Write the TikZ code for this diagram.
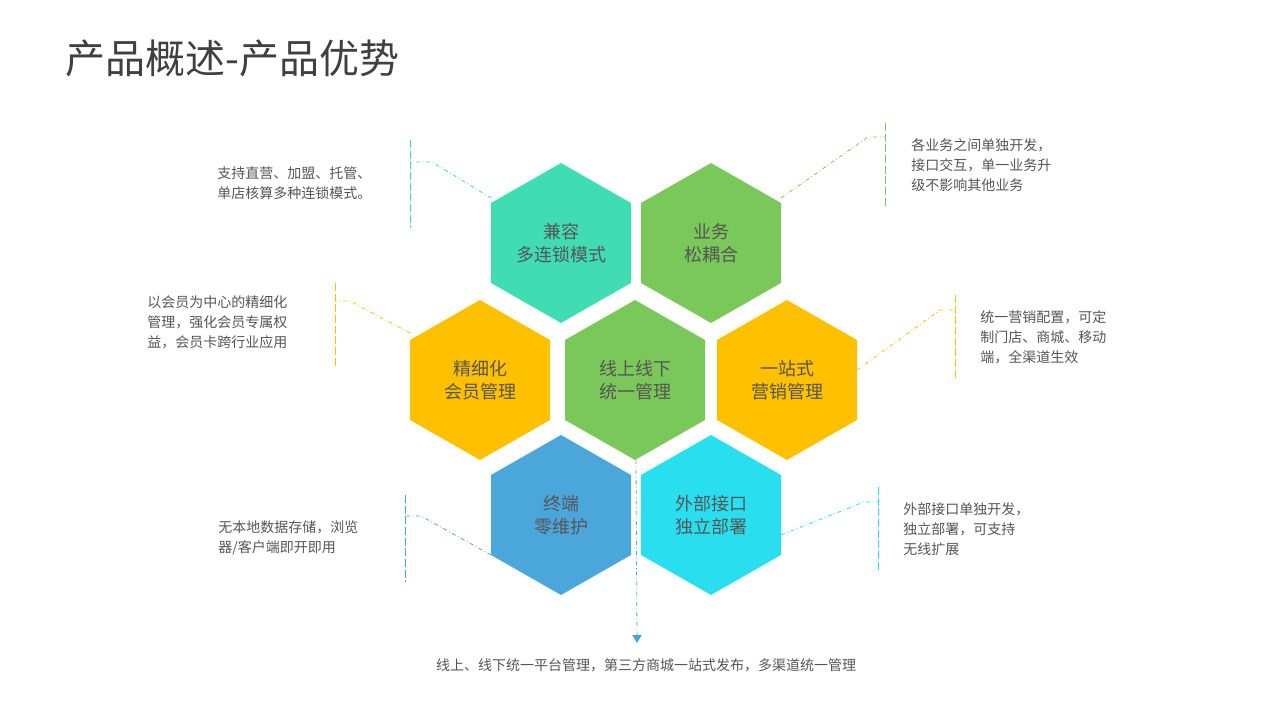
\documentclass[tikz,border=0pt]{standalone}
\usepackage{fontspec}
\setmainfont{Noto Sans CJK SC}
\usetikzlibrary{arrows.meta}
\definecolor{cteal}{HTML}{40DDB5}
\definecolor{cgreen}{HTML}{7AC85A}
\definecolor{corange}{HTML}{FFC000}
\definecolor{cblue}{HTML}{4BA6DC}
\definecolor{ccyan}{HTML}{29DFEF}
\definecolor{ctext}{HTML}{555555}
\definecolor{ctitle}{HTML}{404040}
\begin{document}
\begin{tikzpicture}[x=0.75pt,y=-0.75pt,
  hexlabel/.style={text=ctext,font=\fontsize{13.5}{17}\selectfont,align=center},
  desc/.style={text=ctext,font=\fontsize{10.5}{15}\selectfont,align=left,anchor=west,inner sep=0pt},
  lead/.style={line width=0.6pt,dash dot},
  bar/.style={line width=0.6pt,dash pattern=on 6pt off 2pt}]
\useasboundingbox (0,0) rectangle (1280,720);
\newcommand{\hexa}[4]{%
  \fill[#3] (#1,#2-80) -- (#1+70,#2-40) -- (#1+70,#2+40) -- (#1,#2+80) -- (#1-70,#2+40) -- (#1-70,#2-40) -- cycle;
  \node[hexlabel] at (#1,#2) {#4};}
\node[anchor=west,text=ctitle,font=\fontsize{30}{36}\selectfont,inner sep=0pt] (title) at (65,58) {产品概述-产品优势};
\hexa{561}{243}{cteal}{兼容\\多连锁模式}
\hexa{711}{243}{cgreen}{业务\\松耦合}
\hexa{480}{380}{corange}{精细化\\会员管理}
\hexa{635}{380}{cgreen}{线上线下\\统一管理}
\hexa{787}{380}{corange}{一站式\\营销管理}
\hexa{561}{515}{cblue}{终端\\零维护}
\hexa{711}{515}{ccyan}{外部接口\\独立部署}
% connectors
\coordinate (a1) at (491,198); \coordinate (a2) at (432,162); \coordinate (a3) at (410,162);
\draw[lead,cteal] (a1) -- (a2) -- (a3); \draw[bar,cteal] (410,140) -- (410,228);
\coordinate (b1) at (781,198); \coordinate (b2) at (868,137); \coordinate (b3) at (885,137);
\draw[lead,cgreen] (b1) -- (b2) -- (b3); \draw[bar,cgreen] (885,123) -- (885,208);
\coordinate (c1) at (410,333); \coordinate (c2) at (350,301); \coordinate (c3) at (335,301);
\draw[lead,corange] (c1) -- (c2) -- (c3); \draw[bar,corange] (335,283) -- (335,366);
\coordinate (d1) at (857,370); \coordinate (d2) at (940,310); \coordinate (d3) at (955,310);
\draw[lead,corange] (d1) -- (d2) -- (d3); \draw[bar,corange] (955,295) -- (955,380);
\coordinate (e1) at (491,555); \coordinate (e2) at (421,516); \coordinate (e3) at (405,516);
\draw[lead,cblue] (e1) -- (e2) -- (e3); \draw[bar,cblue] (405,495) -- (405,582);
\coordinate (f1) at (781,535); \coordinate (f2) at (864,502); \coordinate (f3) at (878,502);
\draw[lead,ccyan] (f1) -- (f2) -- (f3); \draw[bar,ccyan] (878,487) -- (878,572);
\coordinate (g1) at (636,460); \coordinate (g2) at (637,643);
\draw[lead,cblue,-{Triangle[length=6pt,width=7pt]}] (g1) -- (g2);
% texts
\node[desc] (t1) at (217,183) {支持直营、加盟、托管、\\单店核算多种连锁模式。};
\node[desc] (t2) at (911,165) {各业务之间单独开发，\\接口交互，单一业务升\\级不影响其他业务};
\node[desc] (t3) at (147,322) {以会员为中心的精细化\\管理，强化会员专属权\\益，会员卡跨行业应用};
\node[desc] (t4) at (980,337) {统一营销配置，可定\\制门店、商城、移动\\端，全渠道生效};
\node[desc] (t5) at (218,538) {无本地数据存储，浏览\\器/客户端即开即用};
\node[desc] (t6) at (903,529) {外部接口单独开发，\\独立部署，可支持\\无线扩展};
\node[text=ctext,font=\fontsize{10.5}{15}\selectfont,inner sep=0pt] (t7) at (646,665) {线上、线下统一平台管理，第三方商城一站式发布，多渠道统一管理};
\end{tikzpicture}
\end{document}
